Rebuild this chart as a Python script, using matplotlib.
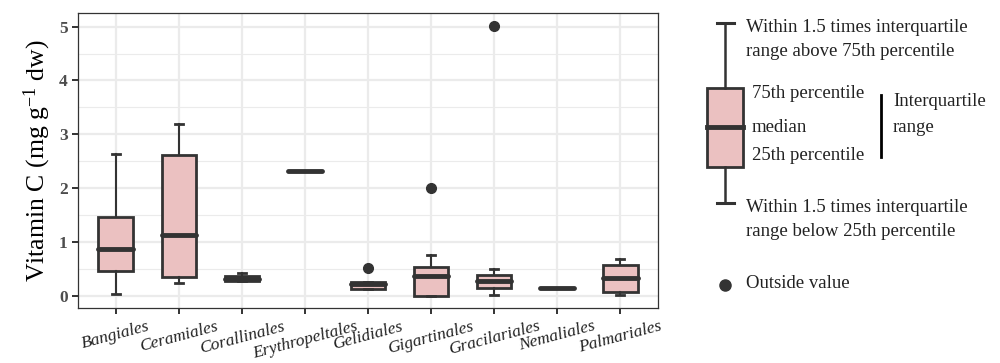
import matplotlib
matplotlib.use("Agg")
import matplotlib.pyplot as plt
from matplotlib.ticker import MultipleLocator

plt.rcParams['font.family'] = ['Liberation Serif', 'DejaVu Serif']
plt.rcParams['mathtext.fontset'] = 'custom'
plt.rcParams['mathtext.rm'] = 'Liberation Serif'
plt.rcParams['mathtext.it'] = 'Liberation Serif:italic'

orders = ["Bangiales", "Ceramiales", "Corallinales", "Erythropeltales", "Gelidiales",
          "Gigartinales", "Gracilariales", "Nemaliales", "Palmariales"]
whislo = [0.04, 0.25, 0.28, 2.32, 0.14, 0.01, 0.02, 0.15, 0.03]
q1 = [0.47, 0.35, 0.28, 2.32, 0.14, 0.01, 0.16, 0.15, 0.08]
med = [0.88, 1.13, 0.32, 2.32, 0.22, 0.37, 0.28, 0.15, 0.33]
q3 = [1.47, 2.62, 0.37, 2.32, 0.27, 0.54, 0.39, 0.15, 0.57]
whishi = [2.63, 3.19, 0.43, 2.32, 0.27, 0.77, 0.51, 0.15, 0.69]
outliers = [[], [], [], [], [0.53], [2.0], [5.01], [], []]

fill = "#ebc1c1"
edge = "#333333"

stats = []
for i, name in enumerate(orders):
    stats.append(dict(label=name, whislo=whislo[i], q1=q1[i], med=med[i],
                      q3=q3[i], whishi=whishi[i], fliers=outliers[i]))

fig = plt.figure(figsize=(10, 3.63), dpi=100)
ax = fig.add_axes([0.078, 0.1515, 0.58, 0.8125])

ax.bxp(stats, positions=range(1, len(orders) + 1), widths=0.55, capwidths=0.13,
       patch_artist=True, zorder=3,
       boxprops=dict(facecolor=fill, edgecolor=edge, linewidth=2),
       medianprops=dict(color=edge, linewidth=3.5, solid_capstyle='round'),
       whiskerprops=dict(color=edge, linewidth=1.5),
       capprops=dict(color=edge, linewidth=2),
       flierprops=dict(marker='o', markerfacecolor=edge, markeredgecolor=edge,
                       markersize=7))

ax.set_xlim(0.4, 9.6)
ax.set_ylim(-0.22, 5.25)
ax.yaxis.set_major_locator(MultipleLocator(1))
ax.yaxis.set_minor_locator(MultipleLocator(0.5))
ax.grid(which='major', color='#ebebeb', linewidth=1.6, zorder=0)
ax.grid(which='minor', axis='y', color='#ebebeb', linewidth=0.8, zorder=0)
ax.set_axisbelow(True)
for s in ax.spines.values():
    s.set_color('#333333')
    s.set_linewidth(0.9)

ax.tick_params(axis='both', which='major', length=4, width=1.4, color='#333333')
ax.tick_params(axis='y', which='minor', length=0)
ax.set_xticks(range(1, len(orders) + 1))
ax.set_xticklabels(orders, rotation=15, ha='center', fontstyle='italic',
                   fontsize=12.5, color='#222222')
for lab in ax.get_yticklabels():
    lab.set_fontweight('bold')
    lab.set_fontsize(12.5)
    lab.set_color('#4d4d4d')
ax.set_ylabel(r'Vitamin C (mg g$^{-1}$ dw)', fontsize=18.5, labelpad=4)

# explanatory key on the right, in pixel coordinates
k = fig.add_axes([0, 0, 1, 1])
k.set_xlim(0, 1000)
k.set_ylim(363, 0)
k.axis('off')
k.plot([725, 725], [23, 88], color=edge, lw=1.8)
k.plot([725, 725], [167, 203], color=edge, lw=1.8)
k.plot([717, 734], [23, 23], color=edge, lw=2.2)
k.plot([717, 734], [203, 203], color=edge, lw=2.2)
k.add_patch(plt.Rectangle((707, 88), 36, 79, facecolor=fill, edgecolor=edge, lw=2))
k.plot([707, 743], [127, 127], color=edge, lw=3.5)
k.plot([881, 881], [95, 157], color='black', lw=2)
k.plot([725], [285], 'o', color=edge, markersize=8)

tk = dict(fontsize=13.5, color='#222222', va='center', ha='left')
k.text(746, 27, "Within 1.5 times interquartile", **tk)
k.text(746, 51, "range above 75th percentile", **tk)
k.text(752, 94, "75th percentile", **tk)
k.text(752, 127, "median", **tk)
k.text(752, 156, "25th percentile", **tk)
k.text(893, 102, "Interquartile", **tk)
k.text(893, 127, "range", **tk)
k.text(746, 208, "Within 1.5 times interquartile", **tk)
k.text(746, 232, "range below 25th percentile", **tk)
k.text(746, 283, "Outside value", **tk)

fig.savefig("out.png", dpi=100)
